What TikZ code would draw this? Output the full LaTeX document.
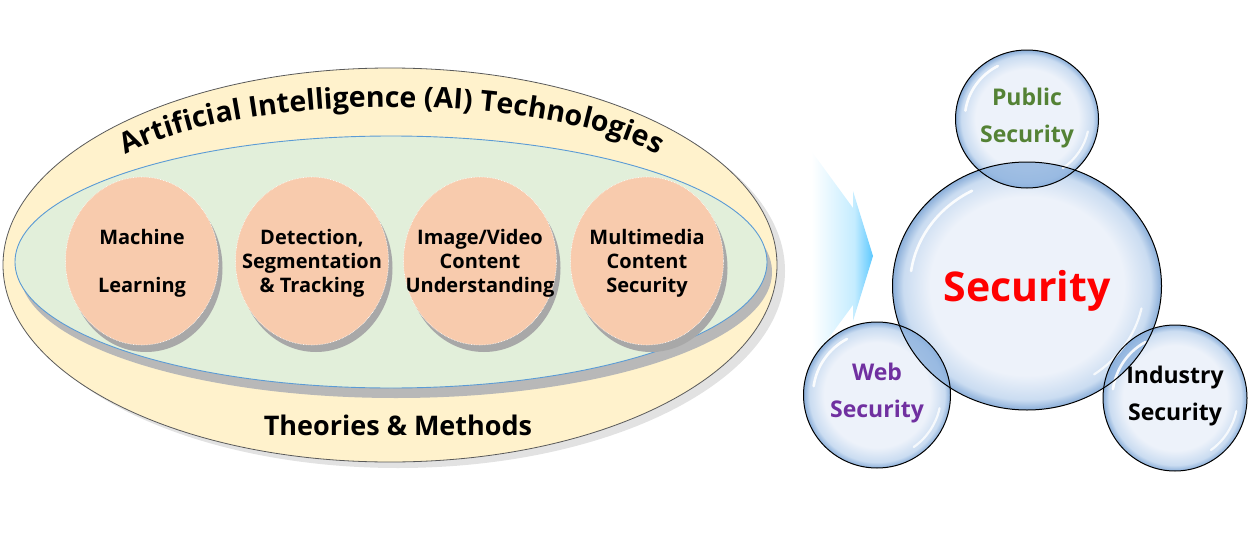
\documentclass[tikz,border=0pt]{standalone}
\usepackage{fontspec}
\setmainfont{Open Sans}
\usetikzlibrary{decorations.text}
\definecolor{outerfill}{HTML}{FFF2CC}
\definecolor{outerline}{HTML}{595959}
\definecolor{greenfill}{HTML}{E2EFDA}
\definecolor{greenline}{HTML}{5B9BD5}
\definecolor{pinkfill}{HTML}{F8CBAD}
\definecolor{shadowA}{HTML}{E2E2E2}
\definecolor{shadowB}{HTML}{B8B8B8}
\definecolor{shadowC}{HTML}{A8A8A8}
\definecolor{arrowblue}{HTML}{5CC8FF}
\definecolor{arrowmid}{HTML}{C4ECFF}
\definecolor{bubin}{HTML}{EDF2FA}
\definecolor{bubmid}{HTML}{CADCF1}
\definecolor{bubout}{HTML}{8AAED9}
\definecolor{bublens}{HTML}{8DB2DE}
\definecolor{pubgreen}{HTML}{548235}
\definecolor{webpurple}{HTML}{7030A0}
\pgfdeclareradialshading{bubble}{\pgfpoint{0bp}{0bp}}{color(0bp)=(bubin); color(18bp)=(bubin); color(23bp)=(bubmid); color(25bp)=(bubout); color(50bp)=(bubout)}
\pgfdeclarehorizontalshading{arrowfade}{100bp}{color(0bp)=(white); color(25bp)=(white); color(42bp)=(white); color(65bp)=(arrowmid); color(75bp)=(arrowblue); color(100bp)=(arrowblue)}
\newcommand\mybubble[4]{%
  \shade[shading=bubble] (#1,#2) ellipse [x radius=#3, y radius=#4];}
\newcommand\myhighlight[4]{%
  \pgfmathsetmacro\hrx{0.87*#3}\pgfmathsetmacro\hry{0.87*#4}%
  \pgfmathsetmacro\sxa{#1+\hrx*cos(-172)}\pgfmathsetmacro\sya{#2+\hry*sin(-172)}%
  \pgfmathsetmacro\sxb{#1+\hrx*cos(12)}\pgfmathsetmacro\syb{#2+\hry*sin(12)}%
  \draw[white, line width=2.6pt, line cap=round, opacity=.9] (\sxa,\sya) arc[start angle=-172, end angle=-118, x radius=\hrx, y radius=\hry];
  \draw[white, line width=2.2pt, line cap=round, opacity=.8] (\sxb,\syb) arc[start angle=12, end angle=55, x radius=\hrx, y radius=\hry];}
\tikzset{
  pinktext/.style={align=center, font=\fontsize{20}{24}\selectfont\bfseries},
  bubtext/.style={align=center, font=\fontsize{23}{37}\selectfont\bfseries},
  bubline/.style={draw=black, line width=1pt},
}
\begin{document}
\begin{tikzpicture}[x=1pt,y=-1pt]
\path[use as bounding box] (0,0) rectangle (1253,554);
% arrow
\shade[shading=arrowfade] (780,108) -- (853,208) -- (853,191) -- (873,256) -- (853,321) -- (853,305) -- (780,404) -- cycle;
% outer ellipse
\fill[shadowA] (398,271) ellipse [x radius=387, y radius=197];
\draw[fill=outerfill, draw=outerline, line width=0.8pt] (390,265) ellipse [x radius=387, y radius=197];
% title on arc
\path[decorate, decoration={text along path, text align=center,
  text={|\fontsize{28.5}{30}\selectfont\bfseries|Artificial Intelligence (AI) Technologies}}]
  (110.1,165.6) arc[start angle=-160, end angle=-20, x radius=300, y radius=89];
% green ellipse
\fill[shadowB] (396,272) ellipse [x radius=376, y radius=126];
\draw[fill=greenfill, draw=greenline, line width=0.9pt] (391,262) ellipse [x radius=376, y radius=126];
% pink ellipses
\foreach \cx in {142,312,480,647}{
  \fill[shadowC] (\cx+4,268) ellipse [x radius=76.5, y radius=84];
  \draw[fill=pinkfill, draw=white, densely dotted, line width=0.6pt] (\cx,261) ellipse [x radius=76.5, y radius=84];
}
\node[pinktext] (ml) at (142,263) {Machine\\[24pt]Learning};
\node[pinktext] (dst) at (312,263) {Detection,\\Segmentation\\\& Tracking};
\node[pinktext] (ivcu) at (480,263) {Image/Video\\Content\\Understanding};
\node[pinktext] (mcs) at (647,263) {Multimedia\\Content\\Security};
\node[font=\fontsize{27}{30}\selectfont\bfseries] (tm) at (398,425) {Theories \& Methods};
% bubbles
\mybubble{1027}{286}{134.5}{124}
\mybubble{1027}{119}{71.5}{69}
\mybubble{877}{395}{73.5}{73}
\mybubble{1175}{398}{72}{73}
\begin{scope}\clip (1027,119) ellipse [x radius=71.5, y radius=69];
  \fill[bublens, opacity=.8] (1027,286) ellipse [x radius=134.5, y radius=124];\end{scope}
\begin{scope}\clip (877,395) ellipse [x radius=73.5, y radius=73];
  \fill[bublens, opacity=.8] (1027,286) ellipse [x radius=134.5, y radius=124];\end{scope}
\begin{scope}\clip (1175,398) ellipse [x radius=72, y radius=73];
  \fill[bublens, opacity=.8] (1027,286) ellipse [x radius=134.5, y radius=124];\end{scope}
\myhighlight{1027}{286}{134.5}{124}
\myhighlight{1027}{119}{71.5}{69}
\myhighlight{877}{395}{73.5}{73}
\myhighlight{1175}{398}{72}{73}
\draw[bubline] (1027,286) ellipse [x radius=134.5, y radius=124];
\draw[bubline] (1027,119) ellipse [x radius=71.5, y radius=69];
\draw[bubline] (877,395) ellipse [x radius=73.5, y radius=73];
\draw[bubline] (1175,398) ellipse [x radius=72, y radius=73];
\node[font=\fontsize{41}{44}\selectfont\bfseries, text=red] (sec) at (1027,291) {Security};
\node[bubtext, text=pubgreen] (pub) at (1027,118) {Public\\Security};
\node[bubtext, text=webpurple] (web) at (877,393) {Web\\Security};
\node[bubtext] (ind) at (1175,396) {Industry\\Security};
\end{tikzpicture}
\end{document}
